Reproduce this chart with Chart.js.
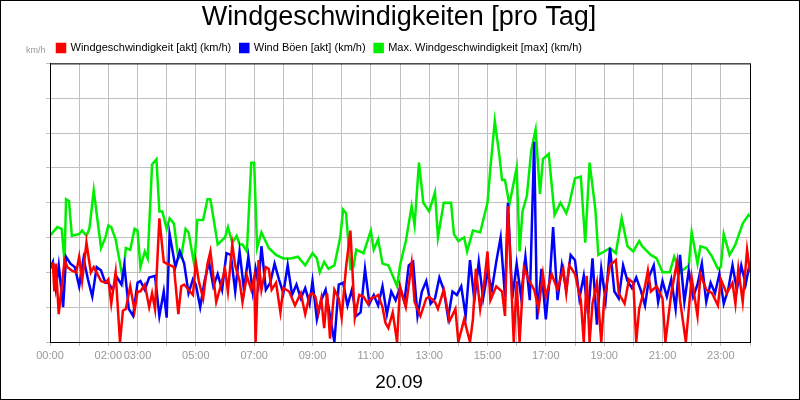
<!DOCTYPE html>
<html>
<head>
<meta charset="utf-8">
<script src="https://cdn.jsdelivr.net/npm/chart.js@4"></script>
<style>
body { margin: 0; background: #fff; }
#box { width: 800px; height: 400px; }
</style>
</head>
<body>
<div id="box"><canvas id="windChart" width="800" height="400"></canvas></div>
<script>
// hours of day, values in km/h
const labelHours = [0, 2, 3, 5, 7, 9, 11, 13, 15, 17, 19, 21, 23];

const maxTimes = [0, 0.25, 0.4, 0.5, 0.55, 0.65, 0.75, 1.0, 1.1, 1.25, 1.35, 1.5, 1.75, 1.9, 2.0, 2.1, 2.25, 2.5, 2.6, 2.75, 2.9, 3.0, 3.1, 3.25, 3.35, 3.5, 3.65, 3.75, 3.85, 4.0, 4.1, 4.25, 4.4, 4.5, 4.65, 4.75, 4.95, 5.05, 5.25, 5.4, 5.5, 5.75, 6.0, 6.1, 6.25, 6.4, 6.5, 6.6, 6.75, 6.9, 7.0, 7.1, 7.25, 7.5, 7.75, 8.0, 8.25, 8.5, 8.75, 9.0, 9.15, 9.25, 9.4, 9.55, 9.75, 9.95, 10.05, 10.15, 10.3, 10.4, 10.5, 10.75, 11.0, 11.1, 11.25, 11.4, 11.6, 11.9, 12.0, 12.2, 12.4, 12.5, 12.65, 12.8, 13.0, 13.2, 13.3, 13.5, 13.75, 13.85, 14.0, 14.2, 14.3, 14.5, 14.75, 15.0, 15.1, 15.25, 15.4, 15.5, 15.6, 15.75, 16.0, 16.1, 16.2, 16.35, 16.5, 16.65, 16.8, 16.9, 17.1, 17.3, 17.5, 17.7, 17.8, 18.0, 18.2, 18.35, 18.5, 18.7, 18.8, 19.0, 19.2, 19.4, 19.6, 19.8, 20.0, 20.2, 20.3, 20.6, 20.8, 21.0, 21.25, 21.4, 21.6, 21.9, 22.0, 22.2, 22.3, 22.5, 22.7, 22.9, 23.0, 23.1, 23.3, 23.5, 23.75, 23.95, 24.0];
const maxValues = [6.1, 6.6, 6.5, 4.6, 8.2, 8.1, 6.1, 6.2, 6.4, 6.1, 6.5, 8.7, 5.4, 6.0, 6.7, 6.6, 5.9, 3.6, 5.4, 5.3, 6.5, 6.4, 4.3, 5.2, 4.8, 10.2, 10.5, 7.5, 7.5, 6.5, 7.1, 6.8, 4.8, 4.9, 6.5, 6.3, 4.4, 7.0, 7.0, 8.2, 8.2, 5.6, 6.0, 6.6, 5.7, 6.1, 5.6, 5.6, 5.2, 10.3, 10.3, 5.4, 6.3, 5.4, 5.0, 4.8, 4.8, 4.9, 4.4, 5.1, 4.8, 4.0, 4.6, 4.2, 4.4, 6.0, 7.6, 7.4, 4.2, 4.3, 5.3, 5.1, 6.4, 5.3, 5.9, 4.5, 4.4, 3.2, 4.4, 5.8, 7.8, 6.7, 10.3, 8.0, 7.5, 8.6, 6.0, 8.0, 8.0, 6.2, 5.8, 6.0, 5.2, 6.4, 6.3, 8.0, 10.0, 12.7, 10.8, 9.3, 9.3, 7.9, 10.0, 5.2, 7.5, 8.4, 11.0, 12.2, 8.5, 10.5, 10.8, 7.3, 8.0, 7.4, 7.9, 9.4, 9.5, 5.7, 10.3, 7.6, 5.0, 5.2, 5.4, 5.1, 7.1, 5.5, 5.2, 5.8, 5.5, 5.0, 4.8, 4.0, 4.0, 4.9, 4.0, 4.4, 6.3, 4.5, 5.5, 5.4, 4.9, 4.2, 4.3, 6.2, 5.0, 5.6, 6.8, 7.3, 7.2];

const gustTimes = [0, 0.1, 0.2, 0.3, 0.45, 0.55, 0.7, 0.85, 1.0, 1.15, 1.3, 1.45, 1.6, 1.75, 1.9, 2.0, 2.15, 2.3, 2.45, 2.55, 2.7, 2.85, 3.0, 3.1, 3.25, 3.4, 3.6, 3.75, 3.9, 4.0, 4.1, 4.3, 4.45, 4.6, 4.75, 4.9, 5.0, 5.15, 5.3, 5.45, 5.6, 5.75, 5.9, 6.05, 6.2, 6.35, 6.5, 6.65, 6.8, 6.95, 7.05, 7.15, 7.25, 7.4, 7.55, 7.7, 7.85, 8.0, 8.15, 8.3, 8.45, 8.6, 8.75, 8.9, 9.0, 9.15, 9.3, 9.45, 9.6, 9.75, 9.9, 10.05, 10.2, 10.35, 10.5, 10.65, 10.8, 10.95, 11.1, 11.25, 11.4, 11.55, 11.7, 11.85, 12.0, 12.15, 12.3, 12.45, 12.6, 12.75, 12.9, 13.05, 13.2, 13.35, 13.5, 13.65, 13.8, 13.95, 14.1, 14.25, 14.4, 14.55, 14.7, 14.85, 15.0, 15.15, 15.3, 15.45, 15.6, 15.7, 15.85, 16.0, 16.15, 16.3, 16.45, 16.6, 16.7, 16.85, 17.0, 17.15, 17.25, 17.4, 17.55, 17.7, 17.85, 18.0, 18.15, 18.3, 18.45, 18.6, 18.75, 18.9, 19.05, 19.2, 19.35, 19.5, 19.65, 19.8, 19.95, 20.1, 20.25, 20.4, 20.55, 20.7, 20.85, 21.0, 21.15, 21.3, 21.45, 21.6, 21.75, 21.9, 22.05, 22.2, 22.35, 22.5, 22.65, 22.8, 22.95, 23.1, 23.25, 23.4, 23.55, 23.7, 23.85, 24.0];
const gustValues = [4.2, 4.6, 3.1, 4.4, 2.0, 4.9, 4.5, 4.3, 3.2, 4.8, 3.6, 2.6, 4.3, 4.1, 3.4, 3.4, 3.0, 3.7, 3.3, 4.4, 1.9, 1.5, 3.4, 3.5, 3.0, 3.7, 3.8, 1.5, 2.9, 1.4, 6.2, 4.3, 5.2, 4.5, 2.8, 3.6, 3.3, 2.0, 3.5, 4.6, 3.2, 3.9, 3.0, 5.1, 5.0, 2.9, 5.2, 3.0, 4.9, 2.9, 4.2, 3.3, 5.5, 3.0, 3.4, 4.5, 3.6, 2.8, 4.4, 2.7, 3.3, 2.5, 3.1, 2.2, 3.5, 1.3, 2.4, 3.0, 1.5, 0.0, 3.3, 3.4, 2.1, 3.0, 1.5, 1.7, 4.2, 2.2, 2.7, 2.1, 3.2, 1.6, 2.9, 2.4, 3.1, 2.3, 4.4, 4.6, 1.5, 2.9, 3.5, 2.2, 2.5, 3.7, 3.0, 1.4, 2.9, 2.7, 3.2, 1.5, 4.7, 2.4, 4.6, 2.5, 4.0, 3.0, 4.6, 6.0, 2.6, 8.0, 2.5, 4.5, 2.6, 4.9, 2.4, 11.5, 1.3, 4.2, 1.3, 4.0, 6.6, 2.4, 4.4, 3.0, 5.0, 4.7, 2.5, 3.8, 1.6, 4.8, 1.0, 4.2, 2.4, 5.4, 2.9, 2.5, 4.4, 3.5, 3.1, 3.7, 3.0, 2.1, 3.8, 4.4, 2.3, 3.5, 2.6, 3.6, 1.9, 5.0, 2.3, 4.1, 2.6, 3.3, 4.5, 2.3, 3.4, 2.8, 3.9, 2.2, 3.0, 4.4, 3.0, 4.4, 3.3, 4.6, 3.5, 5.3, 3.2];

const windTimes = [0, 0.1, 0.15, 0.2, 0.3, 0.5, 0.6, 0.75, 0.9, 1.0, 1.1, 1.25, 1.4, 1.5, 1.75, 1.9, 2.0, 2.1, 2.25, 2.4, 2.5, 2.6, 2.75, 2.9, 3.0, 3.1, 3.25, 3.4, 3.5, 3.6, 3.75, 3.9, 4.0, 4.25, 4.4, 4.5, 4.6, 4.75, 4.9, 5.0, 5.1, 5.25, 5.4, 5.5, 5.7, 5.85, 6.0, 6.1, 6.25, 6.35, 6.5, 6.6, 6.75, 6.9, 7.0, 7.05, 7.15, 7.25, 7.4, 7.5, 7.6, 7.75, 7.9, 8.0, 8.2, 8.4, 8.6, 8.75, 8.9, 9.0, 9.1, 9.2, 9.3, 9.4, 9.5, 9.6, 9.75, 9.9, 10.0, 10.15, 10.3, 10.45, 10.6, 10.75, 10.9, 11.0, 11.15, 11.25, 11.4, 11.5, 11.6, 11.75, 11.9, 12.0, 12.2, 12.4, 12.5, 12.7, 12.9, 13.0, 13.2, 13.3, 13.5, 13.7, 13.9, 14.0, 14.2, 14.4, 14.5, 14.6, 14.75, 14.9, 15.0, 15.1, 15.3, 15.5, 15.6, 15.7, 15.8, 15.9, 16.0, 16.1, 16.25, 16.4, 16.6, 16.75, 16.9, 17.0, 17.2, 17.4, 17.6, 17.7, 17.8, 18.0, 18.2, 18.3, 18.4, 18.5, 18.6, 18.75, 18.9, 19.0, 19.2, 19.4, 19.5, 19.7, 19.85, 20.0, 20.1, 20.2, 20.4, 20.5, 20.6, 20.8, 21.0, 21.1, 21.3, 21.5, 21.6, 21.8, 22.0, 22.2, 22.3, 22.5, 22.7, 22.9, 23.0, 23.2, 23.4, 23.5, 23.6, 23.75, 23.9, 24.0];
const windValues = [4.3, 4.5, 2.9, 4.5, 1.6, 4.7, 4.3, 4.1, 4.0, 4.9, 3.5, 5.7, 4.0, 4.3, 3.5, 3.4, 3.6, 2.2, 4.0, 0.0, 1.8, 1.9, 3.2, 1.8, 2.9, 2.9, 3.3, 2.0, 2.8, 1.9, 7.1, 4.6, 4.5, 4.3, 1.6, 3.2, 3.3, 3.0, 2.7, 4.6, 3.5, 2.5, 4.5, 5.2, 2.3, 3.2, 4.2, 2.9, 5.6, 4.4, 3.5, 2.3, 3.8, 3.0, 3.7, 0.0, 4.7, 3.0, 4.3, 4.2, 3.0, 3.4, 1.7, 3.1, 2.9, 2.1, 2.8, 1.6, 2.7, 2.8, 2.6, 1.7, 2.5, 0.8, 2.8, 0.2, 3.0, 2.5, 1.4, 4.3, 6.4, 1.4, 2.7, 2.6, 2.2, 2.5, 2.6, 2.7, 2.0, 1.1, 0.8, 1.7, 0.0, 3.2, 2.0, 4.5, 2.3, 1.5, 2.5, 2.6, 2.3, 1.9, 3.0, 1.2, 1.9, 0.0, 1.3, 0.0, 1.3, 4.2, 1.9, 3.6, 5.2, 2.4, 3.2, 2.9, 1.5, 7.8, 4.0, 0.0, 3.5, 0.0, 4.3, 3.6, 3.0, 1.9, 3.9, 2.6, 3.9, 3.0, 4.2, 2.8, 4.4, 3.9, 2.4, 0.0, 3.8, 0.0, 2.2, 3.4, 0.0, 2.5, 4.4, 4.7, 2.8, 2.2, 3.6, 3.4, 0.0, 1.9, 3.2, 4.1, 2.9, 3.2, 2.5, 0.0, 2.8, 4.6, 2.4, 0.0, 3.7, 1.5, 3.9, 3.0, 2.8, 2.1, 3.6, 2.8, 3.4, 2.2, 4.2, 2.3, 5.3, 4.0];

function pairs(times, values) {
    return times.map(function (t, i) { return { x: t, y: values[i] }; });
}

const framePlugin = {
    id: "frame",
    afterDraw: function (chart) {
        let c = chart.ctx;
        let a = chart.chartArea;
        c.save();
        c.strokeStyle = "#000";
        c.lineWidth = 1;
        c.strokeRect(0.5, 0.5, 799, 399);
        c.strokeRect(a.left + 0.5, a.top + 0.5, a.right - a.left, a.bottom - a.top);
        c.fillStyle = "#999";
        c.font = "9px Arial, 'Liberation Sans', sans-serif";
        c.textAlign = "left";
        c.fillText("km/h", 26, 51);
        c.restore();
    }
};

new Chart(document.getElementById("windChart"), {
    type: "line",
    data: {
        datasets: [
            {
                label: "Windgeschwindigkeit [akt] (km/h)",
                data: pairs(windTimes, windValues),
                borderColor: "#ff0000",
                backgroundColor: "#ff0000",
                borderWidth: 2.5,
                pointRadius: 0,
                order: 0
            },
            {
                label: "Wind Böen [akt] (km/h)",
                data: pairs(gustTimes, gustValues),
                borderColor: "#0000ff",
                backgroundColor: "#0000ff",
                borderWidth: 2.5,
                pointRadius: 0,
                order: 1
            },
            {
                label: "Max. Windgeschwindigkeit [max] (km/h)",
                data: pairs(maxTimes, maxValues),
                borderColor: "#00ee00",
                backgroundColor: "#00ee00",
                borderWidth: 2.5,
                pointRadius: 0,
                order: 2
            }
        ]
    },
    options: {
        responsive: false,
        animation: false,
        layout: { padding: { left: 48, right: 50, top: 0, bottom: 0 } },
        plugins: {
            title: {
                display: true,
                text: "Windgeschwindigkeiten [pro Tag]",
                color: "#000",
                font: { family: "Arial, 'Liberation Sans', sans-serif", size: 27, weight: "normal" },
                padding: { top: 1, bottom: 0 }
            },
            subtitle: {
                display: true,
                position: "bottom",
                text: "20.09",
                color: "#000",
                font: { family: "Arial, 'Liberation Sans', sans-serif", size: 19 },
                padding: { top: 6, bottom: 6 }
            },
            legend: {
                align: "start",
                labels: {
                    boxWidth: 8,
                    boxHeight: 8,
                    padding: 9,
                    color: "#000",
                    font: { family: "Arial, 'Liberation Sans', sans-serif", size: 11 }
                }
            },
            tooltip: { enabled: false }
        },
        scales: {
            x: {
                type: "linear",
                min: 0,
                max: 24,
                ticks: {
                    stepSize: 1,
                    autoSkip: false,
                    maxRotation: 0,
                    color: "#999",
                    font: { family: "Arial, 'Liberation Sans', sans-serif", size: 11 },
                    callback: function (v) {
                        if (labelHours.indexOf(v) < 0) return "";
                        return (v < 10 ? "0" : "") + v + ":00";
                    }
                },
                grid: { color: "#c0c0c0", tickLength: 4 },
                border: { color: "#000" }
            },
            y: {
                min: 0,
                max: 16,
                ticks: {
                    stepSize: 2,
                    color: "#999",
                    font: { family: "Arial, 'Liberation Sans', sans-serif", size: 11 }
                },
                grid: { color: "#c0c0c0", tickLength: 4 },
                border: { color: "#000" },
                afterFit: function (scale) { scale.width = 2; }
            }
        }
    },
    plugins: [framePlugin]
});
</script>
</body>
</html>
